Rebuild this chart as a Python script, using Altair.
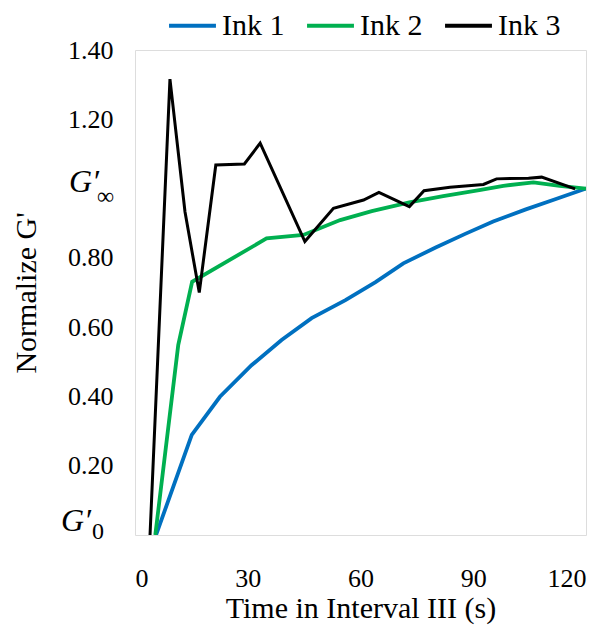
import altair as alt
import pandas as pd

# Ink 1 (blue)
ink1_t = [5.6, 15.1, 22.6, 31.0, 39.0, 47.0, 56.0, 64.0, 71.4, 80.0, 88.0, 95.3, 104.0, 112.0, 120.0]
ink1_y = [0.0, 0.289, 0.399, 0.49, 0.563, 0.626, 0.678, 0.73, 0.784, 0.83, 0.87, 0.905, 0.94, 0.97, 1.0]
# Ink 2 (green)
ink2_t = [5.4, 11.5, 15.2, 35.0, 44.8, 54.6, 63.0, 73.0, 82.0, 92.0, 98.0, 106.0, 113.0, 120.0]
ink2_y = [0.0, 0.548, 0.731, 0.856, 0.866, 0.909, 0.935, 0.96, 0.978, 0.996, 1.008, 1.018, 1.008, 1.0]
# Ink 3 (black)
ink3_t = [4.0, 9.3, 13.3, 17.1, 21.5, 29.1, 33.3, 45.2, 52.8, 60.8, 64.9, 73.0, 76.9, 83.8, 92.7, 96.2, 104.7, 108.2, 117.1]
ink3_y = [0.0, 1.316, 0.933, 0.70, 1.068, 1.071, 1.131, 0.847, 0.943, 0.967, 0.989, 0.948, 0.994, 1.004, 1.012, 1.028, 1.030, 1.033, 0.999]

series = ["Ink 1", "Ink 2", "Ink 3"]
colors = ["#0070C0", "#00B050", "#000000"]
widths = [3.8, 3.8, 3.0]

x_ticks = [0, 30, 60, 90, 120]
y_ticks = [0, 0.2, 0.4, 0.6, 0.8, 1.0, 1.2, 1.4]

# special y labels: G'_0 at 0 and G'_inf at 1
special_y = [0.0, 1.0]
special_main = ["G′", "G′"]
special_sub = ["0", "∞"]

frames = []
for name, t, y in zip(series, [ink1_t, ink2_t, ink3_t], [ink1_y, ink2_y, ink3_y]):
    frames.append(pd.DataFrame({"t": t, "y": y, "ink": name}))

FONT = "Liberation Serif, Times New Roman, DejaVu Serif, serif"

color = alt.Color(
    "ink:N",
    scale=alt.Scale(domain=series, range=colors),
    legend=alt.Legend(
        title=None,
        orient="none",
        legendX=32,
        legendY=-50,
        direction="horizontal",
        symbolType="stroke",
        symbolSize=2200,
        symbolStrokeWidth=3.8,
        labelFont=FONT,
        labelFontSize=30,
        labelColor="black",
        labelOffset=4,
        columnPadding=14,
    ),
)

x = alt.X(
    "t:Q",
    scale=alt.Scale(domain=[0, 120], nice=False),
    axis=alt.Axis(
        values=x_ticks,
        title="Time in Interval III (s)",
        grid=False,
        ticks=False,
        domain=False,
        labelFont=FONT,
        labelFontSize=26,
        labelColor="black",
        labelPadding=30,
        titleFont=FONT,
        titleFontSize=30,
        titleFontWeight="normal",
        titleColor="black",
        titlePadding=2,
    ),
)

y = alt.Y(
    "y:Q",
    scale=alt.Scale(domain=[0, 1.4], nice=False),
    axis=alt.Axis(
        values=y_ticks,
        title="Normalize G'",
        grid=False,
        ticks=False,
        domain=False,
        labelExpr="(datum.value == 0 || abs(datum.value - 1) < 0.001) ? '' : format(datum.value, '.2f')",
        labelFont=FONT,
        labelFontSize=26,
        labelColor="black",
        labelPadding=22,
        titleFont=FONT,
        titleFontSize=30,
        titleFontWeight="normal",
        titleColor="black",
        titlePadding=26,
    ),
)

layers = []
for df, w in zip(frames, widths):
    layers.append(
        alt.Chart(df).mark_line(strokeWidth=w, clip=True).encode(x=x, y=y, color=color)
    )

# placement of the special labels (pixel offsets relative to plot's left edge)
label_layout = [
    {"x_main": -44, "dy_main": -14, "x_sub": -43, "dy_sub": -3},   # G'_0
    {"x_main": -36, "dy_main": -7, "x_sub": -38, "dy_sub": 8},     # G'_inf
]

text_layers = []
for yv, mtxt, stxt, lay in zip(special_y, special_main, special_sub, label_layout):
    d = pd.DataFrame({"y": [yv], "main": [mtxt], "sub": [stxt]})
    text_layers.append(
        alt.Chart(d).mark_text(
            align="right", baseline="middle", font=FONT, fontSize=32,
            fontStyle="italic", color="black", dy=lay["dy_main"],
        ).encode(x=alt.value(lay["x_main"]), y=alt.Y("y:Q"), text="main:N")
    )
    text_layers.append(
        alt.Chart(d).mark_text(
            align="left", baseline="middle", font=FONT, fontSize=24,
            color="black", dy=lay["dy_sub"],
        ).encode(x=alt.value(lay["x_sub"]), y=alt.Y("y:Q"), text="sub:N")
    )

chart = (
    alt.layer(*layers, *text_layers)
    .properties(
        width=451,
        height=485,
        autosize=alt.AutoSizeParams(type="none"),
        padding={"left": 127, "top": 42, "right": 15, "bottom": 95},
    )
    .configure_view(stroke="black", strokeWidth=2)
    .configure(background="white")
)

chart.save("out.html", embed_options={"renderer": "svg", "actions": False})
